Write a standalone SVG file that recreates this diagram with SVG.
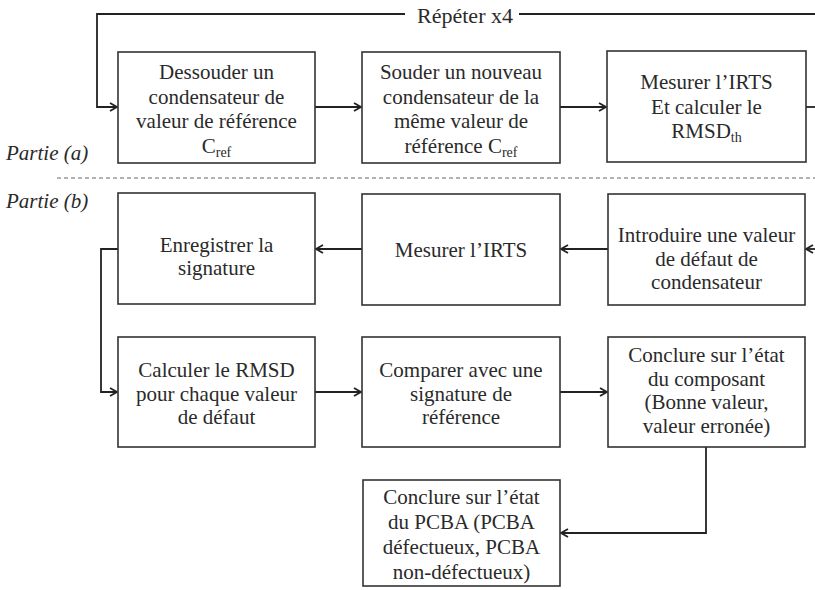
<svg xmlns="http://www.w3.org/2000/svg" width="815" height="590" viewBox="0 0 815 590">
<style>
.box{fill:#fff;stroke:#333;stroke-width:1.6}
.t{font-family:"Liberation Serif","Times New Roman",serif;font-size:21px;fill:#2a2a2a;text-anchor:middle}
.lbl{font-family:"Liberation Serif","Times New Roman",serif;font-size:21px;fill:#2a2a2a;font-style:italic}
.c{fill:none;stroke:#222;stroke-width:1.8}
.sub{font-size:14px}
</style>
<defs>
<marker id="ah" markerUnits="userSpaceOnUse" markerWidth="12" markerHeight="12" refX="9" refY="5" orient="auto">
<path d="M2,1 L9,5 L2,9" fill="none" stroke="#222" stroke-width="1.8"/>
</marker>
</defs>
<rect width="815" height="590" fill="#fff"/>
<g id="labels">
<text class="lbl" x="6" y="160">Partie (a)</text>
<text class="lbl" x="6" y="208">Partie (b)</text>
<text class="t" x="465" y="23" style="font-size:22px">Répéter x4</text>
<line x1="57" y1="178" x2="815" y2="178" stroke="#666" stroke-width="1" stroke-dasharray="4,3"/>
</g>
<g id="connectors">
<polyline class="c" points="806,107 815,107"/>
<polyline class="c" points="815,14 519,14"/>
<polyline class="c" points="405,14 97,14 97,107 117,107" marker-end="url(#ah)"/>
<line class="c" x1="315" y1="107" x2="361" y2="107" marker-end="url(#ah)"/>
<line class="c" x1="560" y1="107" x2="606" y2="107" marker-end="url(#ah)"/>
<line class="c" x1="815" y1="249" x2="806" y2="249" marker-end="url(#ah)"/>
<line class="c" x1="608" y1="249" x2="561" y2="249" marker-end="url(#ah)"/>
<line class="c" x1="362" y1="249" x2="316" y2="249" marker-end="url(#ah)"/>
<polyline class="c" points="118,249 101,249 101,392 117,392" marker-end="url(#ah)"/>
<line class="c" x1="315" y1="392" x2="361" y2="392" marker-end="url(#ah)"/>
<line class="c" x1="560" y1="392" x2="607" y2="392" marker-end="url(#ah)"/>
<polyline class="c" points="706,447 706,533 561,533" marker-end="url(#ah)"/>
</g>
<g id="a1">
<rect class="box" x="118" y="52" width="197" height="111"/>
<text class="t" x="216.5" y="79">Dessouder un</text>
<text class="t" x="216.5" y="103.5">condensateur de</text>
<text class="t" x="216.5" y="128">valeur de référence</text>
<text class="t" x="216.5" y="152.5">C<tspan class="sub" dy="4">ref</tspan></text>
</g>
<g id="a2">
<rect class="box" x="362" y="52" width="198" height="111"/>
<text class="t" x="461" y="79">Souder un nouveau</text>
<text class="t" x="461" y="103.5">condensateur de la</text>
<text class="t" x="461" y="128">même valeur de</text>
<text class="t" x="461" y="152.5">référence C<tspan class="sub" dy="4">ref</tspan></text>
</g>
<g id="a3">
<rect class="box" x="607" y="51" width="199" height="111"/>
<text class="t" x="706.5" y="89">Mesurer l’IRTS</text>
<text class="t" x="706.5" y="113.5">Et calculer le</text>
<text class="t" x="706.5" y="138">RMSD<tspan class="sub" dy="4">th</tspan></text>
</g>
<g id="b1">
<rect class="box" x="118" y="193" width="197" height="111"/>
<text class="t" x="216.5" y="252">Enregistrer la</text>
<text class="t" x="216.5" y="275">signature</text>
</g>
<g id="b2">
<rect class="box" x="362" y="194" width="198" height="111"/>
<text class="t" x="461" y="257">Mesurer l’IRTS</text>
</g>
<g id="b3">
<rect class="box" x="608" y="194" width="197" height="111"/>
<text class="t" x="706.5" y="242">Introduire une valeur</text>
<text class="t" x="706.5" y="265.5">de défaut de</text>
<text class="t" x="706.5" y="289">condensateur</text>
</g>
<g id="c1">
<rect class="box" x="118" y="337" width="197" height="110"/>
<text class="t" x="216.5" y="377">Calculer le RMSD</text>
<text class="t" x="216.5" y="400.5">pour chaque valeur</text>
<text class="t" x="216.5" y="424">de défaut</text>
</g>
<g id="c2">
<rect class="box" x="362" y="337" width="198" height="110"/>
<text class="t" x="461" y="377">Comparer avec une</text>
<text class="t" x="461" y="400.5">signature de</text>
<text class="t" x="461" y="424">référence</text>
</g>
<g id="c3">
<rect class="box" x="608" y="337" width="197" height="110"/>
<text class="t" x="706.5" y="362">Conclure sur l’état</text>
<text class="t" x="706.5" y="385.5">du composant</text>
<text class="t" x="706.5" y="409">(Bonne valeur,</text>
<text class="t" x="706.5" y="432.5">valeur erronée)</text>
</g>
<g id="d">
<rect class="box" x="363" y="480" width="197" height="106"/>
<text class="t" x="461.5" y="504">Conclure sur l’état</text>
<text class="t" x="461.5" y="529">du PCBA (PCBA</text>
<text class="t" x="461.5" y="554">défectueux, PCBA</text>
<text class="t" x="461.5" y="579">non-défectueux)</text>
</g>
</svg>
